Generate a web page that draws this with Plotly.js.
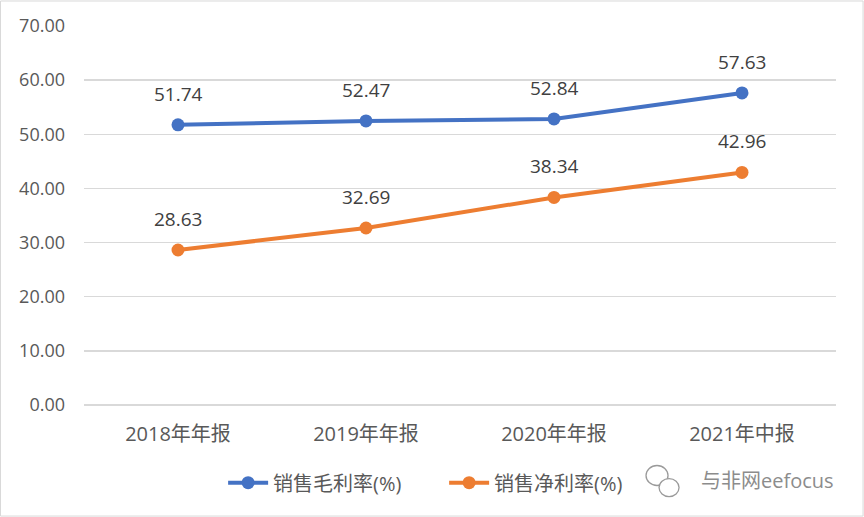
<!DOCTYPE html>
<html>
<head>
<meta charset="utf-8">
<script src="https://cdn.plot.ly/plotly-3.0.1.min.js"></script>
<style>
  html, body { margin: 0; padding: 0; background: #fff; }
  #chart { width: 864px; height: 517px; }
</style>
</head>
<body>
<div id="chart"></div>
<script>
// Data
var periods = ['2018年年报', '2019年年报', '2020年年报', '2021年中报'];
var gross_margin = [51.74, 52.47, 52.84, 57.63];
var net_margin = [28.63, 32.69, 38.34, 42.96];
var series_names = ['销售毛利率(%)', '销售净利率(%)'];

var blue = '#4472c4';
var orange = '#ed7d31';
var font_family = '"Open Sans", "Noto Sans CJK SC", sans-serif';

function make_trace(values, name, color) {
  return {
    x: periods,
    y: values,
    name: name,
    type: 'scatter',
    mode: 'lines+markers',
    line: {color: color, width: 4},
    marker: {color: color, size: 13},
    hoverinfo: 'x+y',
  };
}

function value_labels(values) {
  var annots = [];
  for (let i = 0; i < values.length; i++) {
    annots.push({
      x: periods[i],
      y: values[i],
      text: values[i].toFixed(2),
      showarrow: false,
      yshift: 31,
      font: {size: 19, color: '#404040', family: font_family},
    });
  }
  return annots;
}

var plot_data = [
  make_trace(gross_margin, series_names[0], blue),
  make_trace(net_margin, series_names[1], orange),
];

var annotations = value_labels(gross_margin).concat(value_labels(net_margin));
// watermark
annotations.push({
  xref: 'paper', yref: 'paper',
  x: 1.0, y: -0.198,
  xanchor: 'right', yanchor: 'middle',
  text: '与非网eefocus',
  showarrow: false,
  font: {size: 20, color: '#8c8c8c', family: font_family},
});

var icon_line = {color: '#9a9a9a', width: 1.3};
var shapes = [
  // outer border
  {type: 'rect', xref: 'paper', yref: 'paper', x0: -0.111, x1: 1.036, y0: -0.293, y1: 1.066,
   line: {color: '#d9d9d9', width: 1}},
  // wechat-like icon
  {type: 'circle', xref: 'paper', yref: 'paper', xsizemode: 'pixel', ysizemode: 'pixel',
   xanchor: 0.762, yanchor: -0.186, x0: -11, x1: 11, y0: -10, y1: 10, line: icon_line},
  {type: 'circle', xref: 'paper', yref: 'paper', xsizemode: 'pixel', ysizemode: 'pixel',
   xanchor: 0.778, yanchor: -0.218, x0: -10, x1: 10, y0: -9, y1: 9,
   fillcolor: '#ffffff', line: icon_line},
];

var layout = {
  width: 864,
  height: 517,
  margin: {l: 84, r: 28, t: 26, b: 112},
  paper_bgcolor: '#ffffff',
  plot_bgcolor: '#ffffff',
  font: {family: font_family, color: '#595959', size: 18},
  showlegend: true,
  legend: {
    orientation: 'h',
    x: 0.185, y: -0.205,
    xanchor: 'left', yanchor: 'middle',
    bgcolor: 'rgba(0,0,0,0)',
    font: {size: 20, color: '#595959', family: font_family},
    itemwidth: 40,
    entrywidth: 166,
    tracegroupgap: 0,
  },
  xaxis: {
    type: 'category',
    range: [-0.5, 3.5],
    showgrid: false,
    zeroline: false,
    showline: false,
    ticks: '',
    ticklabelstandoff: 15,
    tickfont: {size: 20, color: '#595959', family: font_family},
    fixedrange: true,
  },
  yaxis: {
    range: [0, 70],
    dtick: 10,
    tickformat: '.2f',
    showgrid: true,
    gridcolor: '#d9d9d9',
    gridwidth: 1.5,
    zeroline: true,
    zerolinecolor: '#d9d9d9',
    zerolinewidth: 1.5,
    showline: false,
    ticks: '',
    ticklabelstandoff: 18,
    tickfont: {size: 18, color: '#595959', family: font_family},
    fixedrange: true,
  },
  annotations: annotations,
  shapes: shapes,
};

var config = {displayModeBar: false, staticPlot: true};
Plotly.newPlot('chart', plot_data, layout, config);
</script>
</body>
</html>
